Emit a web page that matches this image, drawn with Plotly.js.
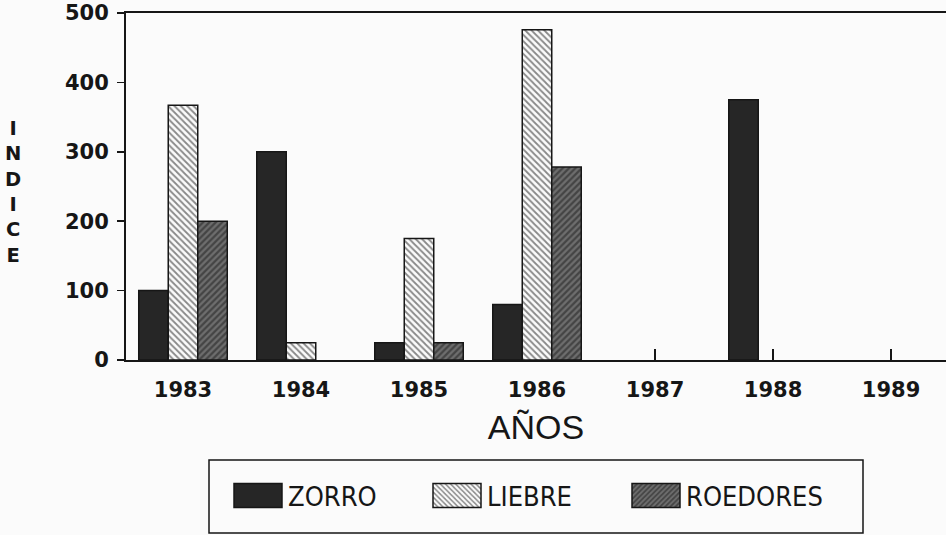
<!DOCTYPE html>
<html>
<head>
<meta charset="utf-8">
<script src="https://cdn.plot.ly/plotly-3.0.1.min.js"></script>
<style>
  html, body { margin: 0; padding: 0; background: #fbfbfb; }
  #chart { width: 946px; height: 535px; }
</style>
</head>
<body>
<div id="chart"></div>
<script>
// ---- data ----
const years = ['1983', '1984', '1985', '1986', '1987', '1988', '1989'];
const zorro = [100, 300, 25, 80, null, 375, null];
const liebre = [367, 25, 175, 476, null, null, null];
const roedores = [200, null, 25, 278, null, null, null];
const seriesNames = ['ZORRO', 'LIEBRE', 'ROEDORES'];
const yTicks = [0, 100, 200, 300, 400, 500];
const xTitle = 'AÑOS';
const yTitleLetters = ['I', 'N', 'D', 'I', 'C', 'E'];

const ink = '#161616';

const traces = [
  {
    type: 'bar', name: seriesNames[0], x: years, y: zorro,
    marker: { color: '#262626', line: { color: ink, width: 1.5 } }
  },
  {
    type: 'bar', name: seriesNames[1], x: years, y: liebre,
    marker: {
      color: '#ffffff',
      line: { color: ink, width: 1.5 },
      pattern: { shape: '\\', bgcolor: '#fbfbfb', fgcolor: ink, size: 4.5, solidity: 0.4, fillmode: 'overlay' }
    }
  },
  {
    type: 'bar', name: seriesNames[2], x: years, y: roedores,
    marker: {
      color: '#666666',
      line: { color: ink, width: 1.5 },
      pattern: { shape: '/', bgcolor: '#6e6e6e', fgcolor: '#1a1a1a', size: 4.5, solidity: 0.5, fillmode: 'overlay' }
    }
  }
];

const W = 946, H = 535;
const L = 126, R = 0, T = 13, B = 175;
const pw = W - L - R, ph = H - T - B;
function px2paperX(px) { return (px - L) / pw; }
function px2paperY(py) { return (H - B - py) / ph; }

const layout = {
  width: W, height: H,
  margin: { l: L, r: R, t: T, b: B, pad: 0 },
  paper_bgcolor: '#fbfbfb',
  plot_bgcolor: '#fbfbfb',
  barmode: 'group',
  bargap: 0.25,
  bargroupgap: 0,
  showlegend: true,
  font: { family: 'DejaVu Sans', color: ink },
  xaxis: {
    type: 'category',
    categoryorder: 'array', categoryarray: years,
    range: [-0.483, 6.466],
    showline: true, linecolor: ink, linewidth: 2, mirror: true,
    ticks: 'inside', ticklen: 11, tickwidth: 1.5, tickcolor: ink,
    showgrid: false, zeroline: false,
    layer: 'below traces',
    tickfont: { family: 'DejaVu Sans', size: 21, weight: 700, color: ink },
    ticklabelstandoff: 10,
    title: { text: xTitle, font: { family: 'Liberation Sans', size: 34, color: ink }, standoff: 14 }
  },
  yaxis: {
    range: [0, 500],
    tickvals: yTicks,
    showline: true, linecolor: ink, linewidth: 2, mirror: false,
    ticks: 'outside', ticklen: 7, tickwidth: 1.5, tickcolor: ink,
    showgrid: false, zeroline: false,
    tickfont: { family: 'DejaVu Sans', size: 21, weight: 700, color: ink },
    ticklabelstandoff: 4
  },
  legend: {
    orientation: 'h',
    xref: 'container', yref: 'container',
    x: 228 / W, xanchor: 'left',
    y: 1 - 496 / H, yanchor: 'middle',
    bgcolor: 'rgba(0,0,0,0)',
    borderwidth: 0,
    font: { family: 'Liberation Sans Narrow, DejaVu Sans Condensed, Liberation Sans', size: 27, color: ink },
    itemwidth: 50,
    entrywidth: 134, entrywidthmode: 'pixels',
    itemclick: false, itemdoubleclick: false
  },
  shapes: [
    {
      type: 'rect', xref: 'paper', yref: 'paper',
      x0: px2paperX(209), x1: px2paperX(863),
      y0: px2paperY(533), y1: px2paperY(460),
      line: { color: ink, width: 1.5 }, fillcolor: 'rgba(0,0,0,0)', layer: 'above'
    }
  ],
  annotations: [
    {
      xref: 'paper', yref: 'paper',
      x: px2paperX(13), y: px2paperY(192),
      xanchor: 'center', yanchor: 'middle',
      showarrow: false, align: 'center',
      font: { family: 'DejaVu Sans', size: 19.5, weight: 700, color: ink },
      text: yTitleLetters.join('<br>')
    }
  ]
};

Plotly.newPlot('chart', traces, layout, { staticPlot: true, displayModeBar: false }).then(function () {
  // widen legend key boxes to match the reference's rectangular keys
  document.querySelectorAll('.legend .legendpoints path').forEach(function (p) {
    p.setAttribute('d', 'M24,12H-24V-12H24Z');
    p.style.strokeWidth = '1.5px';
  });
});
</script>
</body>
</html>
